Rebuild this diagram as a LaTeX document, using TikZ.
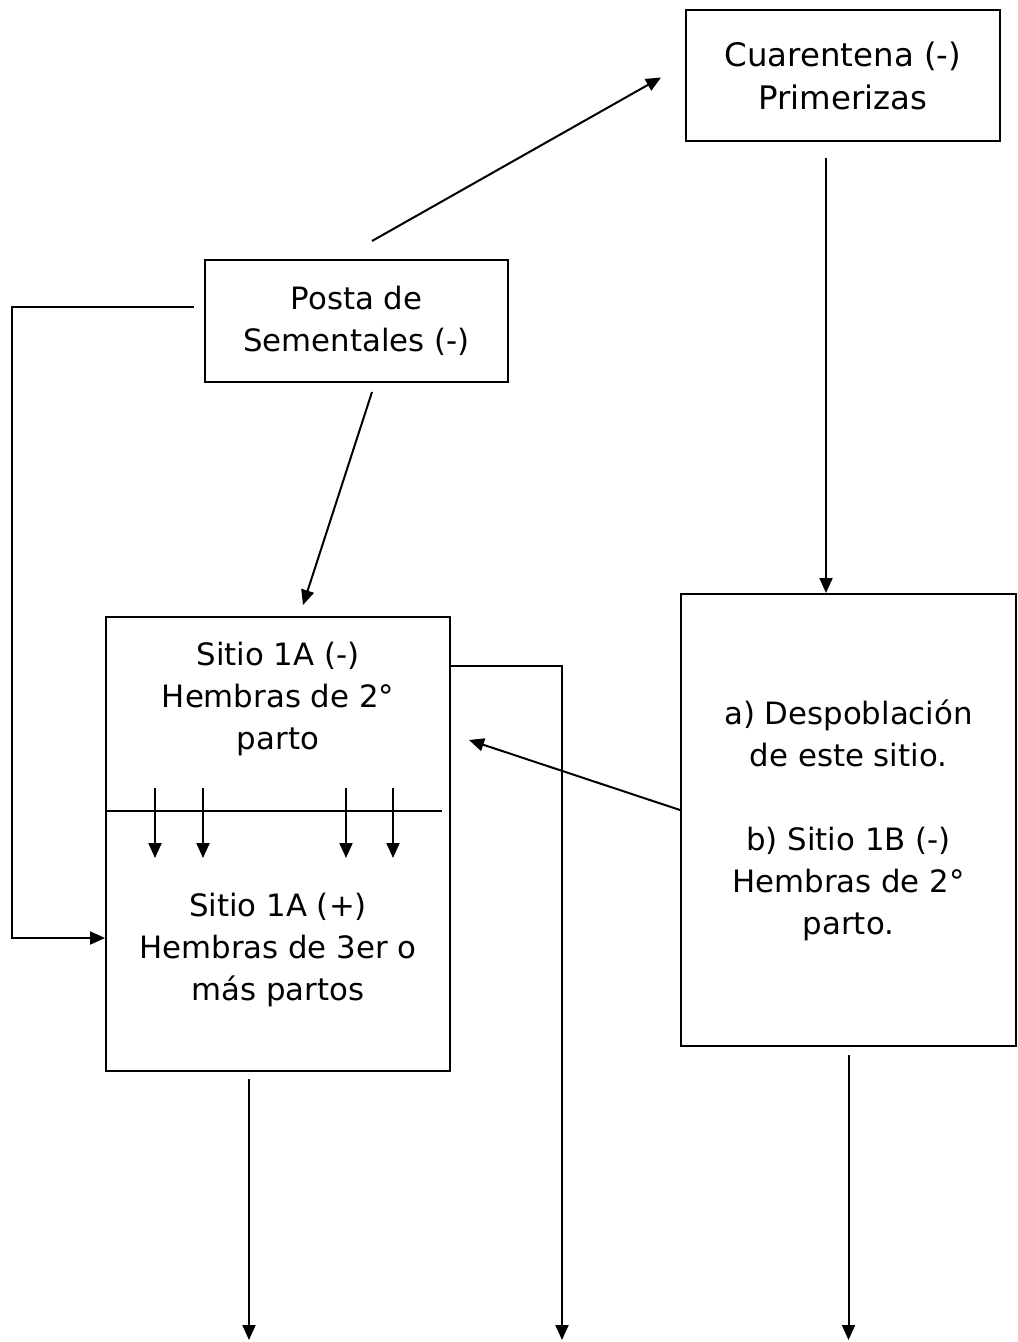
\documentclass[tikz,border=0pt]{standalone}
\usepackage{fontspec}
\setmainfont{DejaVu Sans}
\usetikzlibrary{arrows.meta}
\begin{document}
\begin{tikzpicture}[x=0.5pt,y=-0.5pt,
  line width=1pt,
  box/.style={draw, line width=1pt, inner sep=0pt, align=center,
    font=\fontsize{15.4}{21}\selectfont},
  txt/.style={inner sep=0pt, align=center, font=\fontsize{15.4}{21}\selectfont},
  arr/.style={-{Triangle[length=7.5pt,width=6.5pt]}}]
  % page
  \fill[white] (0,0) rectangle (1017,1342);
  \useasboundingbox (0,0) rectangle (1017,1342);

  % boxes
  \node[box, minimum width=157pt, minimum height=65.5pt,
        font=\fontsize{16.2}{21.5}\selectfont] (cuar) at (843,75.5)
        {Cuarentena (-)\\Primerizas};
  \node[box, minimum width=151.5pt, minimum height=61pt] (posta) at (356.5,321)
        {Posta de\\Sementales (-)};
  \node[box, minimum width=172pt, minimum height=227pt] (sitio) at (278,844) {};
  \node[box, minimum width=167.5pt, minimum height=226pt] (rb) at (848.5,820)
        {a) Despoblación\\de este sitio.\\[21pt]b) Sitio 1B (-)\\Hembras de 2°\\parto.};

  % inside the Sitio 1A box
  \node[txt] (sup) at (278,699) {Sitio 1A (-)\\Hembras de 2°\\parto};
  \node[txt] (inf) at (278,950) {Sitio 1A (+)\\Hembras de 3er o\\más partos};
  \coordinate (dl) at (106,811);
  \coordinate (dr) at (442,811);
  \draw (dl) -- (dr);
  \foreach \xx in {155,203,346,393}
    \draw[arr] (\xx,788) -- (\xx,858);

  % free ends
  \coordinate (lft) at (12,938);
  \coordinate (out1) at (249,1340);
  \coordinate (out2) at (562,1340);
  \coordinate (out3) at (848.5,1340);

  % connectors
  \draw[arr] ([xshift=7.75pt,yshift=9pt]posta.north) -- ([xshift=-12pt,yshift=-1pt]cuar.west);
  \draw[arr] ([xshift=-8.5pt,yshift=-8pt]cuar.south) -- ([xshift=-8.5pt]cuar.south |- rb.north);
  \draw[arr] ([xshift=7.75pt,yshift=-4.5pt]posta.south) -- ([xshift=12.5pt,yshift=5.5pt]sitio.north);
  \draw[arr] ([xshift=-5pt,yshift=7pt]posta.west) -| (lft) -- ([yshift=-47pt]sitio.west);
  \draw[arr] ([yshift=89pt]sitio.east) -| (out2);
  \draw[arr] ([xshift=-14.5pt,yshift=-3.5pt]sitio.south) -- (out1);
  \draw[arr] ([yshift=-4pt]rb.south) -- (out3);
  \draw[arr] ([yshift=5pt]rb.west) -- ([xshift=9pt,yshift=52pt]sitio.east);
\end{tikzpicture}
\end{document}
